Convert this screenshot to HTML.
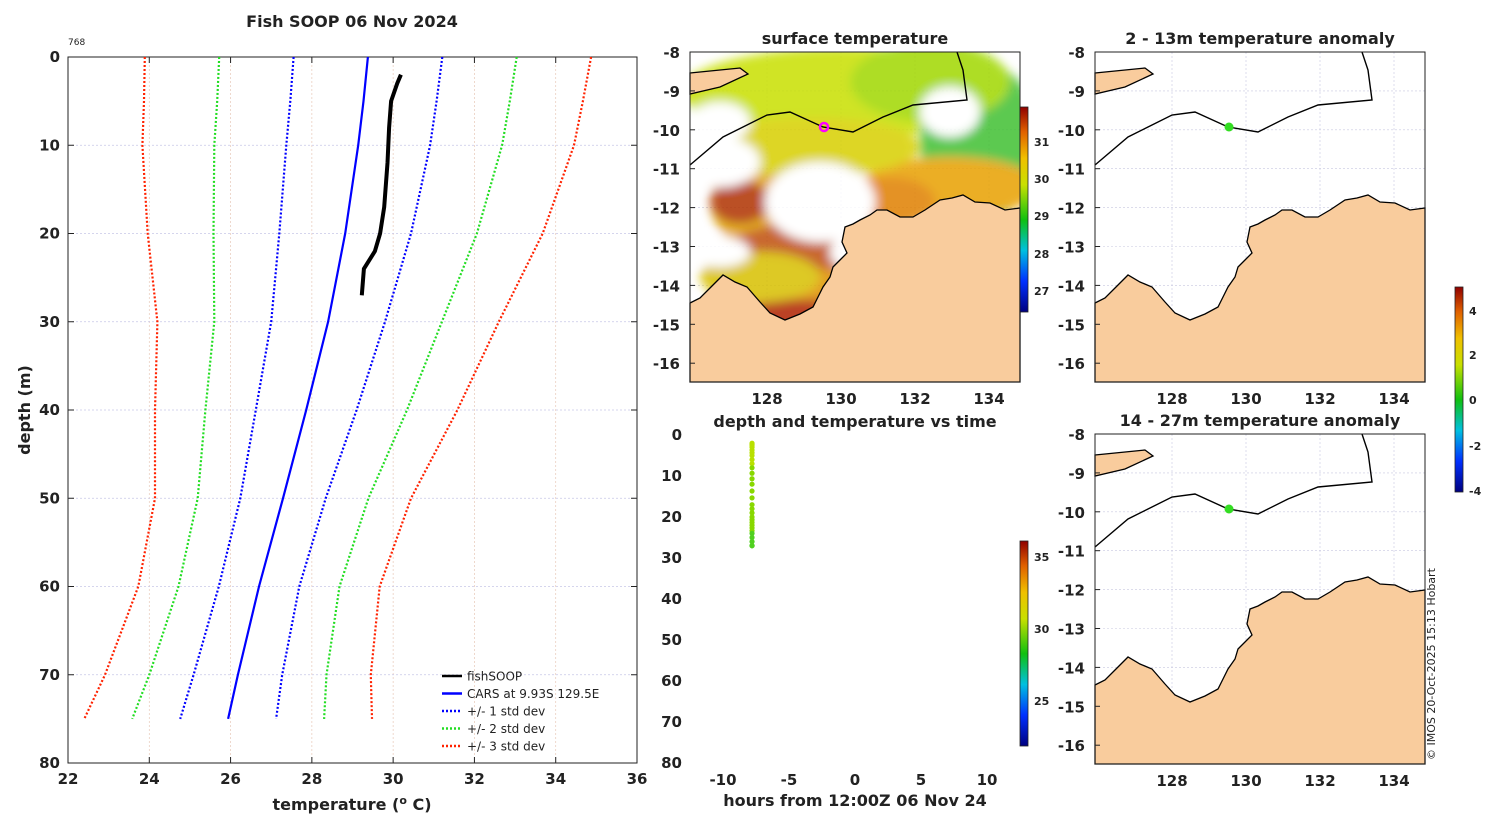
<!DOCTYPE html>
<html><head><meta charset="utf-8"><style>
body{margin:0;background:#fff;}
svg text{font-family:"DejaVu Sans","Liberation Sans",sans-serif;font-weight:bold;fill:#222;}
svg text.n{font-weight:normal;}
</style></head><body>
<svg id="s" width="1500" height="820" viewBox="0 0 1500 820" xmlns="http://www.w3.org/2000/svg">
<defs>
<linearGradient id="jet" x1="0" y1="1" x2="0" y2="0">
<stop offset="0" stop-color="#000080"/><stop offset="0.15" stop-color="#0030ff"/><stop offset="0.3" stop-color="#00c0e0"/><stop offset="0.45" stop-color="#10c010"/><stop offset="0.62" stop-color="#c8e000"/><stop offset="0.75" stop-color="#f0c000"/><stop offset="0.88" stop-color="#e06000"/><stop offset="1" stop-color="#900000"/>
</linearGradient>
<filter id="bl"><feGaussianBlur stdDeviation="5"/></filter>
<clipPath id="mc"><rect x="0" y="0" width="330" height="330"/></clipPath>
</defs>
<g id="prof"></g>
<g id="maps"></g>
<g id="tchart"></g>
</svg>
<script>
// ---- data ----
const depths=[0,5,10,20,30,40,50,60,70,75];
const carsMean=[29.38,29.27,29.14,28.82,28.40,27.86,27.29,26.70,26.18,25.94];
const carsStd=[1.83,1.80,1.77,1.62,1.40,1.24,1.05,0.99,1.09,1.18];
const soopDepth=[2,3,5,8,12,17,20,22,24,27];
const soopTemp=[30.19,30.10,29.95,29.90,29.86,29.78,29.68,29.55,29.28,29.23];
const xTicks=[22,24,26,28,30,32,34,36];
const yTicks=[0,10,20,30,40,50,60,70,80];
const timeHours=[-7.8,-7.8,-7.8,-7.8,-7.8,-7.8,-7.8,-7.8,-7.8,-7.8];
const tTicks=[-10,-5,0,5,10];
const NS="http://www.w3.org/2000/svg";
function E(p,tag,a,txt){const e=document.createElementNS(NS,tag);for(const k in a)e.setAttribute(k,a[k]);if(txt!==undefined)e.textContent=txt;p.appendChild(e);return e;}
// ---- profile ----
const P=document.getElementById('prof');
const px0=68,px1=637,py0=57,py1=763;
const X=t=>px0+(t-22)/14*(px1-px0);
const Y=d=>py0+d/80*(py1-py0);
E(P,'rect',{x:px0,y:py0,width:px1-px0,height:py1-py0,fill:'#fff',stroke:'#222','stroke-width':1});
xTicks.forEach(t=>{const x=X(t);
 if(t>22&&t<36){const g=E(P,'line',{x1:x,x2:x,y1:py0,y2:py1,stroke:'#e8c8b8','stroke-width':0.7,'stroke-dasharray':'2,2'});}
 E(P,'line',{x1:x,x2:x,y1:py1,y2:py1-6,stroke:'#222'});E(P,'line',{x1:x,x2:x,y1:py0,y2:py0+6,stroke:'#222'});
 const l=E(P,'text',{x:x,y:py1+21,'text-anchor':'middle','font-size':15},t);});
yTicks.forEach(d=>{const y=Y(d);
 if(d>0&&d<80){const g=E(P,'line',{x1:px0,x2:px1,y1:y,y2:y,stroke:'#c8c8e8','stroke-width':0.7,'stroke-dasharray':'2,2'});}
 E(P,'line',{x1:px0,x2:px0+6,y1:y,y2:y,stroke:'#222'});E(P,'line',{x1:px1,x2:px1-6,y1:y,y2:y,stroke:'#222'});
 const l=E(P,'text',{x:px0-8,y:y+5,'text-anchor':'end','font-size':15},d);});
function line(xs,ys,col,dash,w,name){const pts=xs.map((v,i)=>X(v).toFixed(1)+','+Y(ys[i]).toFixed(1)).join(' ');
 const e=E(P,'polyline',{points:pts,fill:'none',stroke:col,'stroke-width':w,'stroke-dasharray':dash||'none'});}
const cols={1:'#0000ff',2:'#22dd22',3:'#ff2200'};
[3,2,1].forEach(k=>{line(carsMean.map((m,i)=>m-k*carsStd[i]),depths,cols[k],'2,2',2.2,'std-'+k+'-lower');line(carsMean.map((m,i)=>m+k*carsStd[i]),depths,cols[k],'2,2',2.2,'std-'+k+'-upper');});
line(carsMean,depths,'#0000ff','',2.2,'cars-line');
line(soopTemp,soopDepth,'#000','',4,'fishsoop-line');
E(P,'text',{x:352,y:27,'text-anchor':'middle','font-size':16},'Fish SOOP 06 Nov 2024');
E(P,'text',{x:68,y:45,'font-size':9,class:'n'},'768');
E(P,'text',{x:30,y:410,'text-anchor':'middle','font-size':16,transform:'rotate(-90 30 410)'},'depth (m)');
const xt=E(P,'text',{x:352,y:810,'text-anchor':'middle','font-size':16});xt.innerHTML='temperature (<tspan dy="-6" font-size="11">o</tspan><tspan dy="6"> C)</tspan>';

const leg=[['fishSOOP','#000',''],['CARS at 9.93S 129.5E','#0000ff',''],['+/- 1 std dev','#0000ff','2,2'],['+/- 2 std dev','#22dd22','2,2'],['+/- 3 std dev','#ff2200','2,2']];
leg.forEach((l,i)=>{const y=676+i*17.5;const g=E(P,'g',{});
 E(g,'line',{x1:442,x2:462,y1:y,y2:y,stroke:l[1],'stroke-width':2.5,'stroke-dasharray':l[2]||'none'});
 E(g,'text',{x:467,y:y+4.5,'font-size':12,class:'n'},l[0]);});
// ---- maps ----
const M=document.getElementById('maps');
const land=[[0,251],[10,246],[20,236],[33,223],[45,230],[57,235],[70,250],[80,261],[95,268],[110,262],[123,255],[128,245],[133,235],[140,225],[143,215],[150,208],[157,201],[152,190],[155,175],[163,172],[170,168],[180,163],[187,158],[197,158],[210,165],[223,165],[235,158],[250,148],[262,146],[273,143],[285,150],[300,151],[315,158],[330,156],[330,330],[0,330]];
const isle=[[0,21],[50,16],[58,22],[30,35],[0,42]];
const isob=[[0,113],[33,85],[77,63],[100,60],[133,75],[163,80],[193,65],[223,53],[277,48],[273,18],[267,0]];
const P2=a=>a.map(p=>p.join(',')).join(' ');
function map(ox,oy,title,sst,lonlab,dot){const g=E(M,'g',{transform:`translate(${ox},${oy})`});
 E(g,'rect',{x:0,y:0,width:330,height:330,fill:'#fff'});
 for(let i=1;i<5;i++){E(g,'line',{x1:3+i*74,x2:3+i*74,y1:0,y2:330,stroke:'#c8c8e0','stroke-width':0.6,'stroke-dasharray':'2,2'});}
 for(let i=1;i<9;i++){E(g,'line',{x1:0,x2:330,y1:i*38.9,y2:i*38.9,stroke:'#c8c8e0','stroke-width':0.6,'stroke-dasharray':'2,2'});}
 if(sst){const c=E(g,'g',{'clip-path':'url(#mc)'});const s=E(c,'g',{filter:'url(#bl)',opacity:0.85});
  [[160,40,170,45,'#c8e000'],[290,90,60,80,'#40c030'],[260,135,90,30,'#e8a000'],[80,150,60,50,'#e0a000'],[50,150,30,22,'#b03000'],[120,195,80,25,'#c05010'],[120,245,100,28,'#e09000'],[110,265,60,18,'#b02000'],[70,225,60,25,'#d8c000'],[200,150,45,25,'#e08000'],[120,95,110,30,'#d8d000'],[240,30,80,40,'#a0d800']].forEach(c=>E(s,'ellipse',{cx:c[0],cy:c[1],rx:c[2],ry:c[3],fill:c[4]}));
  [[130,150,55,40],[30,110,40,25],[30,200,30,15],[170,200,30,20],[220,195,30,10],[260,60,30,25],[30,70,30,20]].forEach(c=>E(c.length?s:s,'ellipse',{cx:c[0],cy:c[1],rx:c[2],ry:c[3],fill:'#fff'}));}
 E(g,'polygon',{points:P2(land),fill:'#f9cc9d',stroke:'#000','stroke-width':1.3});
 E(g,'polygon',{points:P2(isle),fill:'#f9cc9d',stroke:'#000','stroke-width':1.3});
 E(g,'polyline',{points:P2(isob),fill:'none',stroke:'#000','stroke-width':1.4});
 if(dot==='ring')E(g,'circle',{cx:134,cy:75,r:4,fill:'none',stroke:'#ff00ff','stroke-width':2.5});
 else E(g,'circle',{cx:134,cy:75,r:4.5,fill:'#33dd22'});
 E(g,'rect',{x:0,y:0,width:330,height:330,fill:'none',stroke:'#222'});
 E(g,'text',{x:165,y:-8,'text-anchor':'middle','font-size':16},title);
 for(let i=0;i<9;i++){const y=i*38.9;E(g,'text',{x:-10,y:y+6,'text-anchor':'end','font-size':15},-8-i);E(g,'line',{x1:0,x2:5,y1:y,y2:y,stroke:'#222'});}
 if(lonlab)[128,130,132,134].forEach((l,i)=>E(g,'text',{x:77+i*74,y:352,'text-anchor':'middle','font-size':15},l));}
map(690,52,'surface temperature',true,true,'ring');
map(1095,52,'2 - 13m temperature anomaly',false,true,'dot');
map(1095,434,'14 - 27m temperature anomaly',false,true,'dot');
function cbar(x,y,h,ticks){const g=E(M,'g',{});
 E(g,'rect',{x:x,y:y,width:8,height:h,fill:'url(#jet)',stroke:'#222','stroke-width':0.8});
 ticks.forEach(t=>E(g,'text',{x:x+14,y:t[1]+4,'font-size':11},t[0]));}
cbar(1020,107,205,[[31,142],[30,179],[29,216],[28,254],[27,291]]);
cbar(1020,541,205,[[35,557],[30,629],[25,701]]);
cbar(1455,287,205,[[4,311],[2,355],[0,400],[-2,446],[-4,491]]);
E(M,'text',{x:1435,y:760,'font-size':11,class:'n',transform:'rotate(-90 1435 760)'},'© IMOS 20-Oct-2025 15:13 Hobart');
// ---- time chart ----
const T=document.getElementById('tchart');
const tx0=690,tx1=1020,ty0=435,ty1=763;
const TX=h=>tx0+(h+12.5)/25*(tx1-tx0);
const TY=d=>ty0+d/80*(ty1-ty0);
E(T,'text',{x:855,y:427,'text-anchor':'middle','font-size':16},'depth and temperature vs time');
yTicks.forEach(d=>{E(T,'text',{x:tx0-8,y:TY(d)+5,'text-anchor':'end','font-size':15},d);});
tTicks.forEach(h=>{E(T,'text',{x:TX(h),y:785,'text-anchor':'middle','font-size':15},h);});
E(T,'text',{x:855,y:806,'text-anchor':'middle','font-size':16},'hours from 12:00Z 06 Nov 24');
const tcol=t=>t>29.9?'#b8e000':t>29.5?'#88d800':'#50d020';
soopDepth.forEach((d,i)=>{for(let k=0;k<3;k++){const dd=d+k*(i<9?(soopDepth[i+1]-d)/3:0);
 const c=E(T,'circle',{cx:TX(timeHours[i]),cy:TY(dd),r:2.6,fill:tcol(soopTemp[i])});
 
 }});
</script>
</body></html>
